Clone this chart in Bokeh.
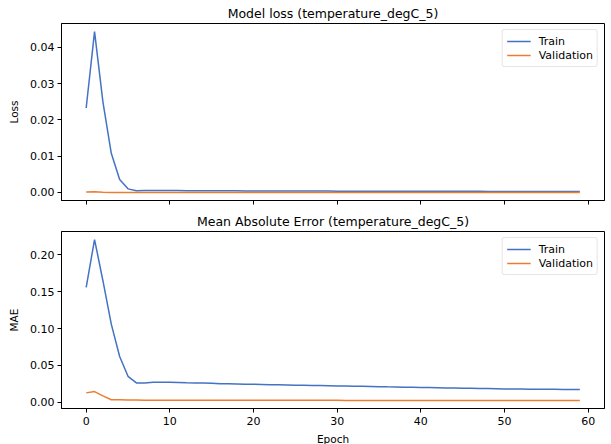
from bokeh.plotting import figure
from bokeh.layouts import column, row
from bokeh.models import FixedTicker, Range1d, Legend, LegendItem, CustomJSTickFormatter, NumeralTickFormatter, Spacer
from bokeh.embed import file_html
from bokeh.resources import INLINE

epochs = list(range(60))

train_loss = [0.0233, 0.0444, 0.0250, 0.0108, 0.0036, 0.0010, 0.00050, 0.00052, 0.00053, 0.00053,
              0.00053, 0.00052, 0.00051, 0.00050, 0.00049, 0.00048, 0.00047, 0.00046, 0.00045, 0.00044,
              0.00043, 0.00042, 0.00041, 0.00041, 0.00040, 0.00040, 0.00039, 0.00039, 0.00038, 0.00038,
              0.00037, 0.00037, 0.00036, 0.00036, 0.00035, 0.00035, 0.00034, 0.00034, 0.00034, 0.00033,
              0.00033, 0.00033, 0.00032, 0.00032, 0.00032, 0.00031, 0.00031, 0.00031, 0.00030, 0.00030,
              0.00030, 0.00030, 0.00029, 0.00029, 0.00029, 0.00029, 0.00028, 0.00028, 0.00028, 0.00028]
val_loss = [0.00016, 0.00020, 0.00007, 0.00002, 0.00002, 0.00002, 0.00002, 0.00002, 0.00002, 0.00002,
            0.00002, 0.00002, 0.00002, 0.00002, 0.00002, 0.00002, 0.00002, 0.00002, 0.00002, 0.00002,
            0.00001, 0.00001, 0.00001, 0.00001, 0.00001, 0.00001, 0.00001, 0.00001, 0.00001, 0.00001,
            0.00001, 0.00001, 0.00001, 0.00001, 0.00001, 0.00001, 0.00001, 0.00001, 0.00001, 0.00001,
            0.00001, 0.00001, 0.00001, 0.00001, 0.00001, 0.00001, 0.00001, 0.00001, 0.00001, 0.00001,
            0.00001, 0.00001, 0.00001, 0.00001, 0.00001, 0.00001, 0.00001, 0.00001, 0.00001, 0.00001]
train_mae = [0.156, 0.221, 0.165, 0.106, 0.062, 0.035, 0.026, 0.026, 0.027, 0.027,
             0.027, 0.0267, 0.0263, 0.0260, 0.0258, 0.0255, 0.0250, 0.0248, 0.0246, 0.0244,
             0.0242, 0.0239, 0.0236, 0.0234, 0.0232, 0.0230, 0.0228, 0.0226, 0.0224, 0.0222,
             0.0220, 0.0218, 0.0216, 0.0214, 0.0212, 0.0210, 0.0207, 0.0205, 0.0203, 0.0201,
             0.0199, 0.0197, 0.0195, 0.0193, 0.0191, 0.0189, 0.0187, 0.0185, 0.0183, 0.0181,
             0.0179, 0.0178, 0.0177, 0.0176, 0.0175, 0.0174, 0.0173, 0.0172, 0.0171, 0.0170]
val_mae = [0.0125, 0.0143, 0.0085, 0.0032, 0.0030, 0.0028, 0.0027, 0.0026, 0.0026, 0.0026,
           0.0026, 0.0026, 0.0026, 0.0025, 0.0025, 0.0025, 0.0025, 0.0025, 0.0025, 0.0025,
           0.0025, 0.0024, 0.0024, 0.0024, 0.0024, 0.0024, 0.0024, 0.0024, 0.0024, 0.0024,
           0.0024, 0.0023, 0.0023, 0.0023, 0.0023, 0.0023, 0.0023, 0.0023, 0.0023, 0.0023,
           0.0023, 0.0023, 0.0023, 0.0023, 0.0022, 0.0022, 0.0022, 0.0022, 0.0022, 0.0022,
           0.0022, 0.0022, 0.0022, 0.0022, 0.0022, 0.0022, 0.0022, 0.0022, 0.0022, 0.0022]

x_ticks = [0, 10, 20, 30, 40, 50, 60]
loss_ticks = [0.0, 0.01, 0.02, 0.03, 0.04]
mae_ticks = [0.0, 0.05, 0.10, 0.15, 0.20]

BLUE = "#4472c4"
ORANGE = "#ed7d31"
FONT = "DejaVu Sans"


def margin_range(vals_list, frac=0.05):
    lo = min(min(v) for v in vals_list)
    hi = max(max(v) for v in vals_list)
    d = (hi - lo) * frac
    return Range1d(lo - d, hi + d)


def make_fig(title, ylab, tr, va, yticks, show_xlabels):
    p = figure(frame_width=543, frame_height=177, output_backend="svg", toolbar_location=None,
               x_range=margin_range([epochs]), y_range=margin_range([tr, va]),
               min_border_left=10, min_border_right=6, min_border_top=0,
               min_border_bottom=0 if show_xlabels else 8)
    p.title.text = title
    p.title.align = "center"
    p.title.text_font = FONT
    p.title.text_font_size = "12.5px"
    p.title.text_font_style = "normal"
    p.title.text_color = "#000000"
    p.title.standoff = 6
    p.xgrid.visible = False
    p.ygrid.visible = False
    p.outline_line_color = "#000000"
    p.outline_line_width = 1
    p.background_fill_color = "white"
    p.border_fill_color = "white"
    for ax in (p.xaxis[0], p.yaxis[0]):
        ax.axis_line_color = "#000000"
        ax.major_tick_line_color = "#000000"
        ax.major_tick_out = 4
        ax.major_tick_in = 0
        ax.minor_tick_line_color = None
        ax.major_label_text_font = FONT
        ax.major_label_text_font_size = "11px"
        ax.major_label_text_color = "#000000"
        ax.major_label_standoff = 3
        ax.axis_label_text_font = FONT
        ax.axis_label_text_font_size = "10.5px"
        ax.axis_label_text_font_style = "normal"
        ax.axis_label_text_color = "#000000"
    p.xaxis[0].ticker = FixedTicker(ticks=x_ticks)
    p.yaxis[0].ticker = FixedTicker(ticks=yticks)
    p.yaxis[0].formatter = NumeralTickFormatter(format="0.00")
    p.yaxis[0].axis_label = ylab
    p.yaxis[0].axis_label_standoff = 7
    if show_xlabels:
        p.xaxis[0].axis_label = "Epoch"
        p.xaxis[0].axis_label_standoff = 5
        p.xaxis[0].major_label_standoff = 4
    else:
        p.xaxis[0].formatter = CustomJSTickFormatter(code="return ''")
        p.xaxis[0].major_label_standoff = 0
    r1 = p.line(epochs, tr, line_color=BLUE, line_width=1.5)
    r2 = p.line(epochs, va, line_color=ORANGE, line_width=1.5)
    leg = Legend(items=[LegendItem(label="Train", renderers=[r1]),
                        LegendItem(label="Validation", renderers=[r2])],
                 location="top_right")
    leg.label_text_font = FONT
    leg.label_text_font_size = "11px"
    leg.label_text_color = "#000000"
    leg.border_line_color = "#cccccc"
    leg.border_line_width = 1
    leg.border_radius = 3
    leg.background_fill_alpha = 0.8
    leg.margin = 6
    leg.padding = 4
    leg.spacing = 0
    leg.glyph_width = 24
    leg.glyph_height = 14
    leg.label_height = 14
    leg.label_standoff = 8
    p.add_layout(leg)
    return p


p1 = make_fig("Model loss (temperature_degC_5)", "Loss", train_loss, val_loss, loss_ticks, False)
p2 = make_fig("Mean Absolute Error (temperature_degC_5)", "MAE", train_mae, val_mae, mae_ticks, True)

layout = row(Spacer(width=5), column(p1, p2, spacing=0), spacing=0)
open("out.html", "w").write(file_html(layout, INLINE))
